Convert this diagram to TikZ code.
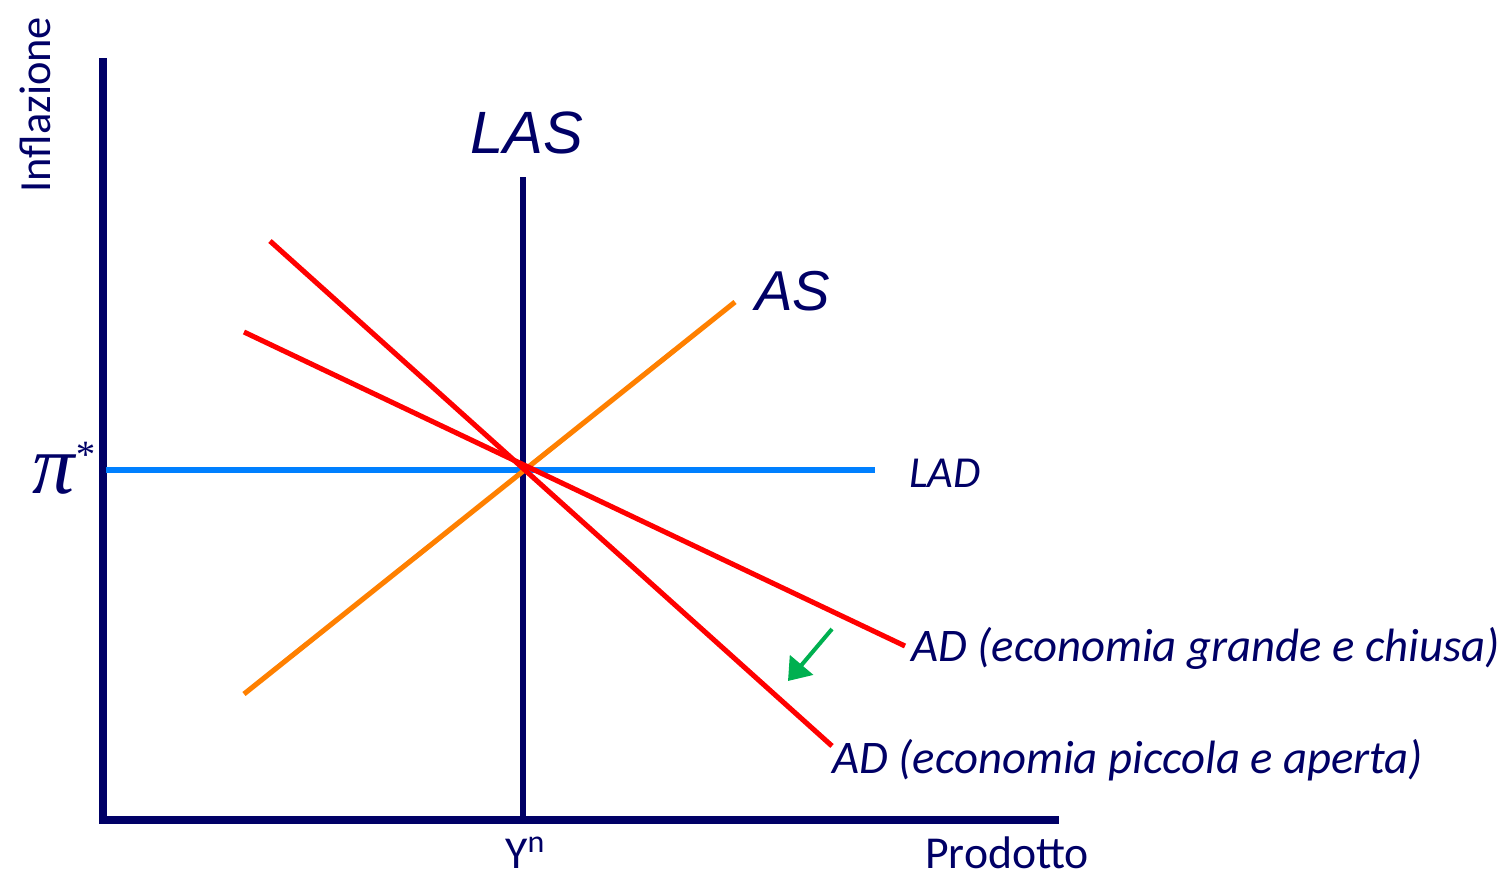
\documentclass[tikz,border=0pt]{standalone}
\usepackage{fontspec}
\usepackage{xcolor}
\usepackage{tikz}
\usetikzlibrary{arrows.meta,positioning}
\newfontfamily\calibri{Carlito}
\newfontfamily\arialfont{Liberation Sans}
\newfontfamily\serifgr{Liberation Serif}
\definecolor{navy}{HTML}{000066}
\definecolor{adRed}{HTML}{FF0000}
\definecolor{asOrange}{HTML}{FF8000}
\definecolor{ladBlue}{HTML}{0080FF}
\definecolor{shiftGreen}{HTML}{00B050}
\begin{document}
\begin{tikzpicture}[x=0.02cm,y=-0.02cm,
  axis/.style={draw=navy,line width=4pt},
  curve/.style={line width=2.9pt},
  lbl/.style={text=navy,inner sep=0pt,font=\calibri\fontsize{26.6}{30}\selectfont\itshape},
  big/.style={text=navy,inner sep=0pt,font=\arialfont\itshape}]
\useasboundingbox (0,0) rectangle (1508,879);
% axes
\coordinate (o) at (103,820);
\coordinate (ytop) at (103,62);
\coordinate (xend) at (1055,820);
\draw[axis,line cap=rect] (ytop) -- (o) -- (xend);
% long run supply
\coordinate (lasTop) at (523,177);
\coordinate (lasBot) at (523,820);
\draw[axis,line width=3.4pt] (lasTop) -- (lasBot);
% curves
\coordinate (ladL) at (106,470);
\coordinate (ladR) at (875,470);
\coordinate (asL) at (244,694);
\coordinate (asR) at (735,302);
\coordinate (adsL) at (270,241);
\coordinate (adsR) at (832,746);
\coordinate (adfL) at (244,332);
\coordinate (adfR) at (905,646);
\draw[curve,ladBlue,line width=3.4pt] (ladL) -- (ladR);
\draw[curve,asOrange] (asL) -- (asR);
\draw[curve,adRed] (adsL) -- (adsR);
\draw[curve,adRed] (adfL) -- (adfR);
% shift
\coordinate (shA) at (832,629);
\coordinate (shB) at (788,681);
\draw[shiftGreen,line width=2.3pt,-{Triangle[width=17pt,length=12pt]}] (shA) -- (shB);
% labels
\node[big,anchor=base,font=\arialfont\itshape\fontsize{34}{40}\selectfont] (las) at (527,153) {LAS};
\node[big,anchor=base west,font=\arialfont\itshape\fontsize{32}{38}\selectfont] (as) at (755,310) {AS};
\node[lbl,anchor=base west,font=\calibri\itshape\fontsize{25.2}{28}\selectfont] (lad) at (909,487) {LAD};
\node[lbl,anchor=base west] (adf) at (911,661) {AD (economia grande e chiusa)};
\node[lbl,anchor=base west] (ads) at (832,773) {AD (economia piccola e aperta)};
\node[text=navy,inner sep=0pt,anchor=base west,font=\calibri\fontsize{26}{30}\selectfont] (yn) at (505,868) {Y\textsuperscript{n}};
\node[text=navy,inner sep=0pt,anchor=base west,font=\calibri\fontsize{26}{30}\selectfont] (prod) at (925,868) {Prodotto};
\node[text=navy,inner sep=0pt,anchor=base west,rotate=90,font=\calibri\fontsize{25.3}{30}\selectfont] (infl) at (51,193) {Inflazione};
\node[text=navy,inner sep=0pt,anchor=base east,font=\serifgr\itshape\fontsize{48}{54}\selectfont] (pistar) at (94,493) {π\raisebox{0.3em}{\fontsize{22}{24}\selectfont *}};
\end{tikzpicture}
\end{document}
